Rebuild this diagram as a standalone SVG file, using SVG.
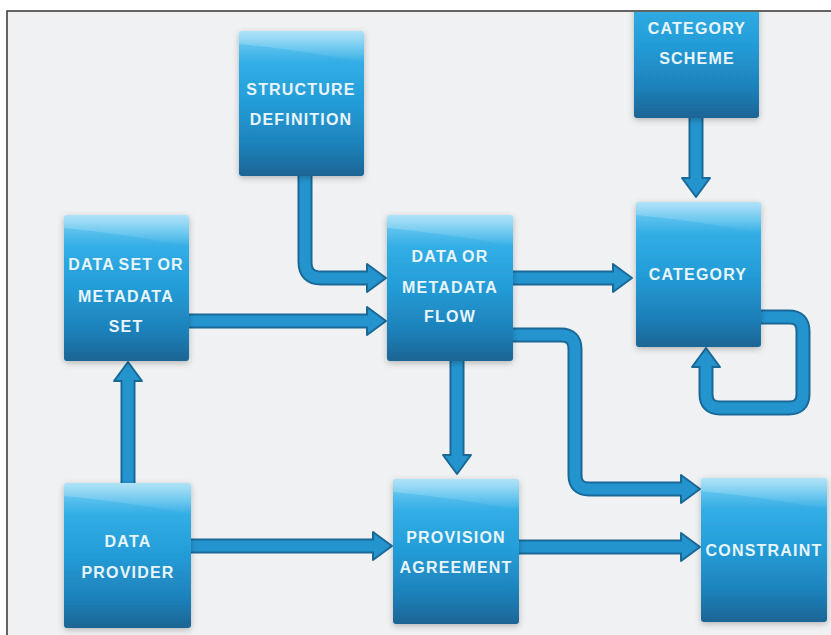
<svg xmlns="http://www.w3.org/2000/svg" xmlns:xlink="http://www.w3.org/1999/xlink" width="831" height="635" viewBox="0 0 831 635">
<defs>
<linearGradient id="boxg" x1="0" y1="0" x2="0" y2="1">
<stop offset="0" stop-color="#86d3f4"/>
<stop offset="0.1" stop-color="#5cc2ee"/>
<stop offset="0.22" stop-color="#33ade5"/>
<stop offset="0.5" stop-color="#239cd7"/>
<stop offset="0.8" stop-color="#1e80b9"/>
<stop offset="1" stop-color="#1a6594"/>
</linearGradient>
<linearGradient id="sheen" x1="0" y1="0" x2="0" y2="1">
<stop offset="0" stop-color="#ffffff" stop-opacity="0.35"/>
<stop offset="1" stop-color="#ffffff" stop-opacity="0"/>
</linearGradient>
<filter id="sh" x="-20%" y="-20%" width="140%" height="140%">
<feDropShadow dx="0" dy="2" stdDeviation="3" flood-color="#000" flood-opacity="0.25"/>
</filter>
<clipPath id="frame"><rect x="8" y="12" width="823" height="623"/></clipPath>
</defs>
<style>
.box{fill:url(#boxg);filter:url(#sh)}
.sheen{fill:url(#sheen)}
.t{font-family:"Liberation Sans",Arial,sans-serif;font-weight:bold;font-size:16px;letter-spacing:1.2px;word-spacing:-1.5px;fill:#e8f5fc;text-anchor:middle}
.po{fill:none;stroke:#1a6896;stroke-width:15}
.pi{fill:none;stroke:#2494cf;stroke-width:11}
.head{fill:#2494cf;stroke:#1a6896;stroke-width:2;stroke-linejoin:round}
</style>
<rect x="0" y="0" width="831" height="635" fill="#ffffff"/>
<rect x="7" y="11" width="830" height="630" fill="#f0f1f2" stroke="#333" stroke-width="1.5"/>
<g clip-path="url(#frame)">
<g id="connectors">
<path id="c1" d="M305,176 V262 Q305,278 321,278 H370" class="po"/>
<path id="c2" d="M189,321 H370" class="po"/>
<path id="c3" d="M513,278 H616" class="po"/>
<path id="c4" d="M696,118 V180" class="po"/>
<path id="c5" d="M761,317 H789 Q803,317 803,331 V394 Q803,408 789,408 H720 Q706,408 706,394 V365" class="po"/>
<path id="c6" d="M457,361 V457" class="po"/>
<path id="c7" d="M513,335 H561 Q575,335 575,349 V475 Q575,489 589,489 H684" class="po"/>
<path id="c8" d="M128,483 V379" class="po"/>
<path id="c9" d="M191,546 H376" class="po"/>
<path id="c10" d="M519,547 H684" class="po"/>
<polygon class="head" points="367,264 386,278 367,292"/>
<polygon class="head" points="367,307 386,321 367,335"/>
<polygon class="head" points="613,264 632,278 613,292"/>
<polygon class="head" points="682,178 696,197 710,178"/>
<polygon class="head" points="692,367 706,348 720,367"/>
<polygon class="head" points="443,455 457,474 471,455"/>
<polygon class="head" points="681,475 700,489 681,503"/>
<polygon class="head" points="114,381 128,362 142,381"/>
<polygon class="head" points="373,532 392,546 373,560"/>
<polygon class="head" points="681,533 700,547 681,561"/>
<path d="M305,176 V262 Q305,278 321,278 H370" class="pi"/>
<path d="M189,321 H370" class="pi"/>
<path d="M513,278 H616" class="pi"/>
<path d="M696,118 V180" class="pi"/>
<path d="M761,317 H789 Q803,317 803,331 V394 Q803,408 789,408 H720 Q706,408 706,394 V365" class="pi"/>
<path d="M457,361 V457" class="pi"/>
<path d="M513,335 H561 Q575,335 575,349 V475 Q575,489 589,489 H684" class="pi"/>
<path d="M128,483 V379" class="pi"/>
<path d="M191,546 H376" class="pi"/>
<path d="M519,547 H684" class="pi"/>
</g>
<g id="structure-definition">
<rect class="box" x="239" y="31" width="125" height="145" rx="3"/>
<path class="sheen" d="M239,34 Q239,31 242,31 H361 Q364,31 364,34 V62 Q300,50 239,44 Z"/>
<text class="t" x="301" y="95">STRUCTURE</text>
<text class="t" x="301" y="125">DEFINITION</text>
</g>
<g id="category-scheme">
<rect class="box" x="634" y="-27" width="125" height="145" rx="3"/>
<text class="t" x="697" y="34">CATEGORY</text>
<text class="t" x="697" y="64">SCHEME</text>
</g>
<g id="data-set">
<rect class="box" x="64" y="215" width="125" height="146" rx="3"/>
<path class="sheen" d="M64,218 Q64,215 67,215 H186 Q189,215 189,218 V246 Q125,234 64,228 Z"/>
<text class="t" x="126" y="270">DATA SET OR</text>
<text class="t" x="126" y="302">METADATA</text>
<text class="t" x="126" y="332">SET</text>
</g>
<g id="data-flow">
<rect class="box" x="387" y="215" width="126" height="146" rx="3"/>
<path class="sheen" d="M387,218 Q387,215 390,215 H510 Q513,215 513,218 V246 Q450,234 387,228 Z"/>
<text class="t" x="450" y="262">DATA OR</text>
<text class="t" x="450" y="293">METADATA</text>
<text class="t" x="450" y="322">FLOW</text>
</g>
<g id="category">
<rect class="box" x="636" y="202" width="125" height="145" rx="3"/>
<path class="sheen" d="M636,205 Q636,202 639,202 H758 Q761,202 761,205 V233 Q698,221 636,215 Z"/>
<text class="t" x="698" y="280">CATEGORY</text>
</g>
<g id="data-provider">
<rect class="box" x="64" y="483" width="127" height="145" rx="3"/>
<path class="sheen" d="M64,486 Q64,483 67,483 H188 Q191,483 191,486 V514 Q127,502 64,496 Z"/>
<text class="t" x="128" y="547">DATA</text>
<text class="t" x="128" y="578">PROVIDER</text>
</g>
<g id="provision-agreement">
<rect class="box" x="393" y="479" width="126" height="145" rx="3"/>
<path class="sheen" d="M393,482 Q393,479 396,479 H516 Q519,479 519,482 V510 Q456,498 393,492 Z"/>
<text class="t" x="456" y="543">PROVISION</text>
<text class="t" x="456" y="573">AGREEMENT</text>
</g>
<g id="constraint">
<rect class="box" x="701" y="478" width="126" height="144" rx="3"/>
<path class="sheen" d="M701,481 Q701,478 704,478 H824 Q827,478 827,481 V509 Q764,497 701,491 Z"/>
<text class="t" x="764" y="556">CONSTRAINT</text>
</g>
</g>
</svg>
